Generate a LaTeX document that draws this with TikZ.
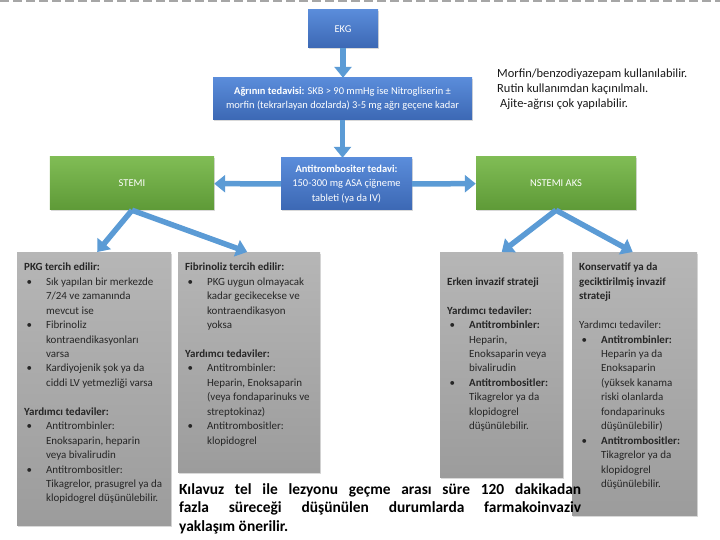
\documentclass[tikz,border=0pt]{standalone}
\usepackage{fontspec}
\setmainfont{Carlito}
\usetikzlibrary{positioning,arrows.meta,shadows,calc}

\definecolor{bluetop}{HTML}{5A8CDA}
\definecolor{bluebot}{HTML}{3C68B4}
\definecolor{greentop}{HTML}{80BC55}
\definecolor{greenbot}{HTML}{5E9A37}
\definecolor{graytop}{HTML}{B6B6B6}
\definecolor{graybot}{HTML}{9C9C9C}
\definecolor{arrblue}{HTML}{5B9BD5}

\newcommand{\itm}{\par\noindent\hangindent=22pt\hangafter=0\llap{\textbullet\hspace{14pt}}}
\newcommand{\gtext}[3]{\parbox[t][#2][t]{#1}{\vspace*{11pt}#3}}

\begin{document}
\begin{tikzpicture}[x=1bp,y=-1bp,
  box/.style={align=center,inner sep=2bp,drop shadow={shadow xshift=1.2bp,shadow yshift=-1.5bp,opacity=.3}},
  bluebox/.style={box,top color=bluetop,bottom color=bluebot,text=white,font=\fontsize{10.5}{14.4}\selectfont},
  greenbox/.style={box,top color=greentop,bottom color=greenbot,text=white,font=\fontsize{10.5}{14.4}\selectfont},
  graybox/.style={box,top color=graytop,bottom color=graybot,text=black!85,inner xsep=7bp,inner ysep=0bp,
    anchor=north west,align=left,font=\fontsize{11}{14.5}\selectfont},
  arr/.style={-{Triangle[length=11bp,width=17bp]},line width=5.5bp,draw=arrblue}]
\useasboundingbox (0,0) rectangle (720,540);
\draw[black!35,line width=2bp,dash pattern=on 9bp off 4bp] (0,1) -- (720,1);

\node[bluebox,minimum width=70bp,minimum height=38bp] (ekg) at (343,29) {EKG};
\node[bluebox,minimum width=259bp,minimum height=42bp] (agri) at (342.5,99)
  {\textbf{Ağrının tedavisi:} SKB > 90 mmHg ise Nitrogliserin ±\\morfin (tekrarlayan dozlarda) 3-5 mg ağrı geçene kadar};
\node[bluebox,minimum width=131bp,minimum height=52bp] (anti) at (346.5,184)
  {\textbf{Antitrombositer tedavi:}\\150-300 mg ASA çiğneme\\tableti (ya da IV)};
\node[greenbox,minimum width=164bp,minimum height=53bp] (stemi) at (132,183.5) {STEMI};
\node[greenbox,minimum width=160bp,minimum height=53bp] (nstemi) at (556,183.5) {NSTEMI AKS};

\node[anchor=north west,align=left,inner sep=0bp,text=black!90,font=\fontsize{12.5}{15}\selectfont] (note) at (497,69)
  {Morfin/benzodiyazepam kullanılabilir.\\Rutin kullanımdan kaçınılmalı.\\\hspace{3pt}Ajite-ağrısı çok yapılabilir.};

\node[graybox] (pkg) at (17,252) {\gtext{140bp}{273bp}{%
  \textbf{PKG tercih edilir:}
  \itm Sık yapılan bir merkezde\newline 7/24 ve zamanında\newline mevcut ise
  \itm Fibrinoliz\newline kontraendikasyonları\newline varsa
  \itm Kardiyojenik şok ya da\newline ciddi LV yetmezliği varsa
  \par\vspace{\baselineskip}\noindent\textbf{Yardımcı tedaviler:}
  \itm Antitrombinler:\newline Enoksaparin, heparin\newline veya bivalirudin
  \itm Antitrombositler:\newline Tikagrelor, prasugrel ya da\newline klopidogrel düşünülebilir.}};
\node[graybox] (fib) at (178,252) {\gtext{128bp}{220bp}{%
  \textbf{Fibrinoliz tercih edilir:}
  \itm PKG uygun olmayacak\newline kadar gecikecekse ve\newline kontraendikasyon\newline yoksa
  \par\vspace{\baselineskip}\noindent\textbf{Yardımcı tedaviler:}
  \itm Antitrombinler:\newline Heparin, Enoksaparin\newline (veya fondaparinuks ve\newline streptokinaz)
  \itm Antitrombositler:\newline klopidogrel}};
\node[graybox] (erken) at (440,252) {\gtext{109bp}{225bp}{%
  \vspace*{\baselineskip}\noindent\textbf{Erken invazif strateji}
  \par\vspace{\baselineskip}\noindent\textbf{Yardımcı tedaviler:}
  \itm \textbf{Antitrombinler:}\newline Heparin,\newline Enoksaparin veya\newline bivalirudin
  \itm \textbf{Antitrombositler:}\newline Tikagrelor ya da\newline klopidogrel\newline düşünülebilir.}};
\node[graybox] (kons) at (572,252) {\gtext{111bp}{263bp}{%
  \noindent\textbf{Konservatif ya da\newline geciktirilmiş invazif\newline strateji}
  \par\vspace{\baselineskip}\noindent Yardımcı tedaviler:
  \itm \textbf{Antitrombinler:}\newline Heparin ya da\newline Enoksaparin\newline (yüksek kanama\newline riski olanlarda\newline fondaparinuks\newline düşünülebilir)
  \itm \textbf{Antitrombositler:}\newline Tikagrelor ya da\newline klopidogrel\newline düşünülebilir.}};

\node[anchor=north west,align=justify,text width=402bp,inner sep=0bp,font=\bfseries\fontsize{15.5}{19}\selectfont] (kilavuz) at (179,483)
  {Kılavuz tel ile lezyonu geçme arası süre 120 dakikadan\linebreak fazla süreceği düşünülen durumlarda farmakoinvaziv\linebreak yaklaşım önerilir.};

\draw[arr] (ekg.south) -- (ekg.south |- agri.north);
\draw[arr] (agri.south) -- (agri.south |- anti.north);
\draw[arr] (anti) -- (stemi);
\draw[arr] (anti) -- (nstemi);
\draw[arr] (stemi.south) -- ($(pkg.north)+(3,0)$);
\draw[arr] (stemi.south) -- ($(fib.north)+(-2,0)$);
\draw[arr] (nstemi.south) -- (erken.north);
\draw[arr] (nstemi.south) -- ($(kons.north)+(-2,0)$);
\end{tikzpicture}
\end{document}
